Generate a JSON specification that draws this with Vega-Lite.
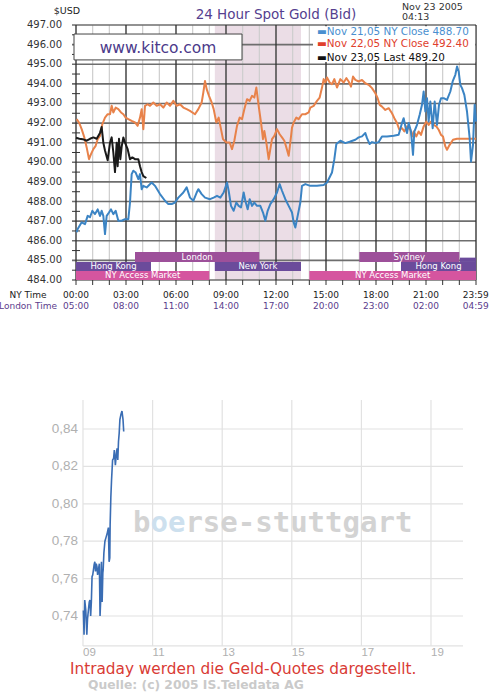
{
"$schema":"https://vega.github.io/schema/vega-lite/v6.json",
"width":502,"height":695,"autosize":"none","padding":0,"background":"white",
"config":{"view":{"stroke":null},"axis":{"disable":true},"legend":{"disable":true},"text":{"font":"DejaVu Sans"}},
"resolve":{"scale":{"x":"independent","y":"independent","color":"independent"}},
"data":{"values":[{}]},
"datasets":{
"hours":[{"h":0},{"h":1},{"h":2},{"h":3},{"h":4},{"h":5},{"h":6},{"h":7},{"h":8},{"h":9},{"h":10},{"h":11},{"h":12},{"h":13},{"h":14},{"h":15},{"h":16},{"h":17},{"h":18},{"h":19},{"h":20},{"h":21},{"h":22},{"h":23},{"h":24}],
"hours3":[{"h":0},{"h":3},{"h":6},{"h":9},{"h":12},{"h":15},{"h":18},{"h":21},{"h":24}],
"prices":[{"p":484},{"p":485},{"p":486},{"p":487},{"p":488},{"p":489},{"p":490},{"p":491},{"p":492},{"p":493},{"p":494},{"p":495},{"p":496},{"p":497}],
"halfs":[{"p":484.5},{"p":485.5},{"p":486.5},{"p":487.5},{"p":488.5},{"p":489.5},{"p":490.5},{"p":491.5},{"p":492.5},{"p":493.5},{"p":494.5},{"p":495.5},{"p":496.5}],
"timelabels":[{"h":-2.88,"ny":"NY Time","lon":"London Time"},{"h":0,"ny":"00:00","lon":"05:00"},{"h":3,"ny":"03:00","lon":"08:00"},{"h":6,"ny":"06:00","lon":"11:00"},{"h":9,"ny":"09:00","lon":"14:00"},{"h":12,"ny":"12:00","lon":"17:00"},{"h":15,"ny":"15:00","lon":"20:00"},{"h":18,"ny":"18:00","lon":"23:00"},{"h":21,"ny":"21:00","lon":"02:00"},{"h":23.98,"ny":"23:59","lon":"04:59"}],
"sessions":[
{"session":"London","start":3.54,"end":11.0,"lo":484.92,"hi":485.43,"kind":"a"},
{"session":"Sydney","start":17.0,"end":23.0,"lo":484.92,"hi":485.43,"kind":"a"},
{"session":"Hong Kong","start":0,"end":4.5,"lo":484.46,"hi":484.92,"kind":"b"},
{"session":"New York","start":8.33,"end":13.5,"lo":484.46,"hi":484.92,"kind":"b"},
{"session":"Hong Kong","start":19.5,"end":24,"lo":484.46,"hi":484.92,"kind":"b"},
{"session":"","start":23.04,"end":24,"lo":484.92,"hi":485.14,"kind":"b"},
{"session":"NY Access Market","start":0,"end":8.0,"lo":484.0,"hi":484.46,"kind":"c"},
{"session":"NY Access Market","start":14.0,"end":24,"lo":484.0,"hi":484.46,"kind":"c"}],
"nov21":[{"h":0.04,"p":486.43},{"h":0.1,"p":486.6},{"h":0.34,"p":486.94},{"h":0.54,"p":486.85},{"h":0.7,"p":487.27},{"h":0.84,"p":487.2},{"h":0.98,"p":487.53},{"h":1.14,"p":487.36},{"h":1.3,"p":487.6},{"h":1.44,"p":487.27},{"h":1.54,"p":487.53},{"h":1.64,"p":487.27},{"h":1.74,"p":486.34},{"h":1.84,"p":487.27},{"h":1.98,"p":487.44},{"h":2.1,"p":487.6},{"h":2.24,"p":487.36},{"h":2.38,"p":487.53},{"h":2.54,"p":487.02},{"h":2.74,"p":487.02},{"h":2.94,"p":487.1},{"h":3.14,"p":487.1},{"h":3.24,"p":487.95},{"h":3.34,"p":489.4},{"h":3.44,"p":489.57},{"h":3.58,"p":489.48},{"h":3.74,"p":489.14},{"h":3.84,"p":489.4},{"h":3.94,"p":488.63},{"h":4.04,"p":488.8},{"h":4.24,"p":488.72},{"h":4.54,"p":488.97},{"h":4.74,"p":488.8},{"h":5.04,"p":488.38},{"h":5.34,"p":488.04},{"h":5.54,"p":487.87},{"h":5.74,"p":487.87},{"h":5.94,"p":487.95},{"h":6.14,"p":488.2},{"h":6.44,"p":488.46},{"h":6.64,"p":488.72},{"h":6.84,"p":488.2},{"h":7.04,"p":488.04},{"h":7.24,"p":488.46},{"h":7.34,"p":488.63},{"h":7.54,"p":488.38},{"h":7.74,"p":488.2},{"h":8.04,"p":488.12},{"h":8.26,"p":488.2},{"h":8.46,"p":488.29},{"h":8.66,"p":488.2},{"h":8.86,"p":488.46},{"h":9.06,"p":488.97},{"h":9.16,"p":488.55},{"h":9.3,"p":487.78},{"h":9.46,"p":487.53},{"h":9.62,"p":487.95},{"h":9.76,"p":487.78},{"h":9.9,"p":487.7},{"h":10.06,"p":488.46},{"h":10.16,"p":488.04},{"h":10.3,"p":487.61},{"h":10.42,"p":488.12},{"h":10.56,"p":487.78},{"h":10.7,"p":487.95},{"h":10.86,"p":487.78},{"h":11.06,"p":487.78},{"h":11.22,"p":487.44},{"h":11.36,"p":487.02},{"h":11.5,"p":487.53},{"h":11.66,"p":487.87},{"h":11.86,"p":488.12},{"h":12.06,"p":488.46},{"h":12.22,"p":488.89},{"h":12.36,"p":488.55},{"h":12.56,"p":488.12},{"h":12.76,"p":487.78},{"h":12.96,"p":487.44},{"h":13.06,"p":486.94},{"h":13.16,"p":486.68},{"h":13.3,"p":487.27},{"h":13.46,"p":487.95},{"h":13.56,"p":488.8},{"h":13.76,"p":488.89},{"h":14.06,"p":488.8},{"h":14.46,"p":488.8},{"h":14.86,"p":488.84},{"h":15.06,"p":488.97},{"h":15.36,"p":489.48},{"h":15.5,"p":490.16},{"h":15.62,"p":490.93},{"h":15.86,"p":491.1},{"h":16.16,"p":490.98},{"h":16.46,"p":491.06},{"h":16.76,"p":491.15},{"h":16.96,"p":491.27},{"h":17.16,"p":491.32},{"h":17.36,"p":491.49},{"h":17.46,"p":491.23},{"h":17.62,"p":490.93},{"h":17.76,"p":491.03},{"h":17.96,"p":490.98},{"h":18.16,"p":491.03},{"h":18.36,"p":491.32},{"h":18.66,"p":491.32},{"h":19.06,"p":491.35},{"h":19.36,"p":491.4},{"h":19.56,"p":492.0},{"h":19.66,"p":492.25},{"h":19.76,"p":491.83},{"h":19.86,"p":491.49},{"h":19.96,"p":492.0},{"h":20.1,"p":491.57},{"h":20.22,"p":490.38},{"h":20.3,"p":491.57},{"h":20.46,"p":491.91},{"h":20.62,"p":492.42},{"h":20.76,"p":492.93},{"h":20.86,"p":493.61},{"h":20.96,"p":492.59},{"h":21.06,"p":493.27},{"h":21.16,"p":492.08},{"h":21.26,"p":493.1},{"h":21.4,"p":491.74},{"h":21.52,"p":493.1},{"h":21.66,"p":491.91},{"h":21.78,"p":492.93},{"h":21.9,"p":493.27},{"h":22.06,"p":493.27},{"h":22.26,"p":493.18},{"h":22.46,"p":493.61},{"h":22.6,"p":494.12},{"h":22.76,"p":494.46},{"h":22.86,"p":494.88},{"h":22.96,"p":494.63},{"h":23.06,"p":493.95},{"h":23.16,"p":493.78},{"h":23.3,"p":493.44},{"h":23.46,"p":492.59},{"h":23.62,"p":491.23},{"h":23.7,"p":490.04},{"h":23.82,"p":490.89},{"h":23.92,"p":492.93},{"h":24.0,"p":492.08}],
"nov22":[{"h":0.04,"p":492.2},{"h":0.18,"p":492.03},{"h":0.34,"p":491.69},{"h":0.5,"p":491.27},{"h":0.64,"p":490.76},{"h":0.78,"p":490.16},{"h":0.9,"p":490.42},{"h":1.04,"p":490.67},{"h":1.18,"p":490.84},{"h":1.3,"p":491.18},{"h":1.44,"p":491.35},{"h":1.58,"p":491.94},{"h":1.74,"p":492.28},{"h":1.9,"p":492.45},{"h":2.04,"p":492.45},{"h":2.14,"p":492.88},{"h":2.24,"p":492.54},{"h":2.38,"p":492.79},{"h":2.54,"p":492.71},{"h":2.7,"p":492.54},{"h":2.84,"p":492.45},{"h":2.98,"p":492.28},{"h":3.14,"p":492.2},{"h":3.34,"p":492.11},{"h":3.54,"p":492.03},{"h":3.7,"p":491.86},{"h":3.84,"p":492.28},{"h":3.94,"p":492.71},{"h":4.04,"p":491.69},{"h":4.14,"p":492.88},{"h":4.3,"p":492.96},{"h":4.44,"p":492.88},{"h":4.64,"p":493.05},{"h":4.84,"p":492.88},{"h":5.04,"p":492.96},{"h":5.24,"p":492.79},{"h":5.44,"p":493.05},{"h":5.64,"p":492.88},{"h":5.84,"p":493.13},{"h":6.04,"p":492.88},{"h":6.24,"p":492.96},{"h":6.44,"p":492.79},{"h":6.64,"p":492.71},{"h":6.84,"p":492.62},{"h":7.14,"p":492.45},{"h":7.34,"p":492.71},{"h":7.54,"p":493.05},{"h":7.64,"p":493.56},{"h":7.74,"p":494.15},{"h":7.84,"p":493.73},{"h":7.98,"p":493.39},{"h":8.14,"p":493.05},{"h":8.26,"p":492.71},{"h":8.42,"p":492.03},{"h":8.56,"p":492.28},{"h":8.7,"p":491.69},{"h":8.82,"p":491.18},{"h":9.02,"p":491.01},{"h":9.22,"p":491.01},{"h":9.36,"p":490.67},{"h":9.5,"p":491.1},{"h":9.66,"p":491.86},{"h":9.82,"p":492.28},{"h":9.96,"p":492.2},{"h":10.1,"p":492.71},{"h":10.26,"p":493.22},{"h":10.42,"p":493.13},{"h":10.56,"p":493.39},{"h":10.7,"p":493.3},{"h":10.82,"p":493.81},{"h":10.96,"p":492.88},{"h":11.1,"p":492.03},{"h":11.22,"p":491.18},{"h":11.3,"p":491.6},{"h":11.42,"p":491.01},{"h":11.56,"p":490.16},{"h":11.66,"p":490.67},{"h":11.76,"p":491.18},{"h":11.9,"p":491.35},{"h":12.06,"p":491.69},{"h":12.22,"p":491.43},{"h":12.36,"p":491.27},{"h":12.5,"p":491.1},{"h":12.62,"p":490.76},{"h":12.76,"p":490.33},{"h":12.86,"p":491.01},{"h":12.96,"p":491.77},{"h":13.06,"p":492.03},{"h":13.22,"p":492.28},{"h":13.36,"p":492.2},{"h":13.56,"p":492.45},{"h":13.76,"p":492.45},{"h":13.96,"p":492.54},{"h":14.06,"p":492.79},{"h":14.26,"p":492.88},{"h":14.46,"p":493.13},{"h":14.62,"p":493.3},{"h":14.76,"p":493.81},{"h":14.86,"p":494.24},{"h":14.96,"p":494.07},{"h":15.06,"p":494.32},{"h":15.22,"p":494.07},{"h":15.36,"p":493.98},{"h":15.5,"p":494.24},{"h":15.66,"p":493.81},{"h":15.86,"p":494.24},{"h":16.06,"p":494.07},{"h":16.22,"p":494.29},{"h":16.36,"p":494.12},{"h":16.5,"p":493.86},{"h":16.62,"p":494.37},{"h":16.76,"p":494.2},{"h":16.96,"p":494.12},{"h":17.16,"p":494.2},{"h":17.36,"p":494.03},{"h":17.56,"p":493.95},{"h":17.76,"p":493.78},{"h":17.96,"p":493.52},{"h":18.1,"p":493.27},{"h":18.22,"p":492.93},{"h":18.36,"p":492.84},{"h":18.56,"p":492.67},{"h":18.76,"p":492.76},{"h":18.96,"p":492.5},{"h":19.1,"p":492.25},{"h":19.26,"p":492.0},{"h":19.4,"p":491.66},{"h":19.56,"p":491.74},{"h":19.7,"p":491.57},{"h":19.86,"p":491.83},{"h":20.06,"p":491.66},{"h":20.16,"p":491.32},{"h":20.26,"p":491.57},{"h":20.42,"p":491.32},{"h":20.56,"p":491.57},{"h":20.7,"p":491.4},{"h":20.86,"p":491.83},{"h":21.02,"p":492.08},{"h":21.16,"p":491.91},{"h":21.3,"p":492.08},{"h":21.46,"p":491.91},{"h":21.62,"p":491.83},{"h":21.76,"p":491.66},{"h":21.9,"p":491.4},{"h":22.02,"p":491.32},{"h":22.16,"p":490.81},{"h":22.26,"p":490.64},{"h":22.42,"p":490.89},{"h":22.62,"p":491.15},{"h":22.86,"p":491.2},{"h":23.26,"p":491.2},{"h":23.66,"p":491.2},{"h":24.0,"p":491.2}],
"nov23":[{"h":0.0,"p":491.25},{"h":0.2,"p":491.2},{"h":0.4,"p":491.18},{"h":0.64,"p":491.1},{"h":0.84,"p":491.2},{"h":1.04,"p":491.27},{"h":1.24,"p":491.2},{"h":1.44,"p":491.5},{"h":1.54,"p":491.8},{"h":1.64,"p":491.0},{"h":1.74,"p":490.6},{"h":1.9,"p":490.1},{"h":2.04,"p":491.0},{"h":2.14,"p":491.27},{"h":2.24,"p":490.5},{"h":2.34,"p":489.5},{"h":2.44,"p":491.0},{"h":2.5,"p":489.8},{"h":2.58,"p":491.2},{"h":2.66,"p":490.16},{"h":2.74,"p":490.8},{"h":2.84,"p":491.27},{"h":2.94,"p":491.0},{"h":3.1,"p":490.67},{"h":3.24,"p":490.16},{"h":3.38,"p":490.25},{"h":3.54,"p":490.16},{"h":3.74,"p":490.16},{"h":3.84,"p":489.8},{"h":3.94,"p":489.5},{"h":4.04,"p":489.3},{"h":4.22,"p":489.2}],
"bgrid_v":[{"h":9},{"h":11},{"h":13},{"h":15},{"h":17},{"h":19}],
"bgrid_h":[{"v":0.724},{"v":0.74},{"v":0.76},{"v":0.78},{"v":0.8},{"v":0.82},{"v":0.84}],
"bylabels":[{"v":0.74,"t":"0,74"},{"v":0.76,"t":"0,76"},{"v":0.78,"t":"0,78"},{"v":0.8,"t":"0,80"},{"v":0.82,"t":"0,82"},{"v":0.84,"t":"0,84"}],
"bxlabels":[{"h":9,"t":"09"},{"h":11,"t":"11"},{"h":13,"t":"13"},{"h":15,"t":"15"},{"h":17,"t":"17"},{"h":19,"t":"19"}],
"intraday":[{"h":9.01,"v":0.743},{"h":9.03,"v":0.730},{"h":9.05,"v":0.7485},{"h":9.08,"v":0.743},{"h":9.11,"v":0.730},{"h":9.13,"v":0.7385},{"h":9.16,"v":0.744},{"h":9.18,"v":0.7475},{"h":9.2,"v":0.7485},{"h":9.22,"v":0.740},{"h":9.24,"v":0.7475},{"h":9.26,"v":0.761},{"h":9.28,"v":0.762},{"h":9.3,"v":0.7647},{"h":9.32,"v":0.7675},{"h":9.34,"v":0.769},{"h":9.36,"v":0.7638},{"h":9.38,"v":0.768},{"h":9.4,"v":0.7665},{"h":9.42,"v":0.762},{"h":9.45,"v":0.7656},{"h":9.47,"v":0.768},{"h":9.49,"v":0.740},{"h":9.51,"v":0.7494},{"h":9.53,"v":0.769},{"h":9.55,"v":0.7475},{"h":9.57,"v":0.763},{"h":9.58,"v":0.7647},{"h":9.6,"v":0.7737},{"h":9.63,"v":0.780},{"h":9.66,"v":0.7819},{"h":9.7,"v":0.7846},{"h":9.73,"v":0.7873},{"h":9.75,"v":0.769},{"h":9.77,"v":0.771},{"h":9.78,"v":0.789},{"h":9.8,"v":0.8035},{"h":9.82,"v":0.8126},{"h":9.85,"v":0.8234},{"h":9.88,"v":0.8243},{"h":9.9,"v":0.8288},{"h":9.93,"v":0.8207},{"h":9.96,"v":0.827},{"h":9.98,"v":0.8297},{"h":10.0,"v":0.8234},{"h":10.02,"v":0.8333},{"h":10.04,"v":0.8378},{"h":10.06,"v":0.845},{"h":10.09,"v":0.8478},{"h":10.12,"v":0.8496},{"h":10.15,"v":0.845},{"h":10.17,"v":0.8387}]
},
"layer":[
{"data":{"values":[{"start":8.33,"end":13.5,"lo":484,"hi":497}]},"mark":{"type":"rect","fill":"#ebdde6"},
 "encoding":{"x":{"field":"start","type":"quantitative","scale":{"domain":[-4.56,25.56],"nice":false,"zero":false}},"x2":{"field":"end"},"y":{"field":"lo","type":"quantitative","scale":{"domain":[462.843,498.2745],"nice":false,"zero":false}},"y2":{"field":"hi"}}},
{"data":{"name":"hours"},"mark":{"type":"rule","stroke":"#cdcdcd","strokeWidth":1.2},
 "encoding":{"x":{"field":"h","type":"quantitative","scale":{"domain":[-4.56,25.56],"nice":false,"zero":false}},"y":{"datum":484,"type":"quantitative","scale":{"domain":[462.843,498.2745],"nice":false,"zero":false}},"y2":{"datum":497}}},
{"data":{"name":"prices"},"mark":{"type":"rule","stroke":"#6e6e6e","strokeWidth":1.6},
 "encoding":{"y":{"field":"p","type":"quantitative","scale":{"domain":[462.843,498.2745],"nice":false,"zero":false}},"x":{"datum":-0.24,"type":"quantitative","scale":{"domain":[-4.56,25.56],"nice":false,"zero":false}},"x2":{"datum":24}}},
{"data":{"name":"hours3"},"mark":{"type":"rule","stroke":"#2a2a2a","strokeWidth":1.2},
 "encoding":{"x":{"field":"h","type":"quantitative","scale":{"domain":[-4.56,25.56],"nice":false,"zero":false}},"y":{"datum":484,"type":"quantitative","scale":{"domain":[462.843,498.2745],"nice":false,"zero":false}},"y2":{"datum":497}}},
{"data":{"name":"halfs"},"mark":{"type":"rule","stroke":"#333","strokeWidth":1},
 "encoding":{"y":{"field":"p","type":"quantitative","scale":{"domain":[462.843,498.2745],"nice":false,"zero":false}},"x":{"datum":-0.24,"type":"quantitative","scale":{"domain":[-4.56,25.56],"nice":false,"zero":false}},"x2":{"datum":0.24}}},
{"data":{"name":"hours"},"mark":{"type":"rule","stroke":"#333","strokeWidth":1},
 "encoding":{"x":{"field":"h","type":"quantitative","scale":{"domain":[-4.56,25.56],"nice":false,"zero":false}},"y":{"datum":484,"type":"quantitative","scale":{"domain":[462.843,498.2745],"nice":false,"zero":false}},"y2":{"datum":483.745}}},
{"data":{"name":"sessions"},"mark":{"type":"rect"},
 "encoding":{"x":{"field":"start","type":"quantitative","scale":{"domain":[-4.56,25.56],"nice":false,"zero":false}},"x2":{"field":"end"},"y":{"field":"lo","type":"quantitative","scale":{"domain":[462.843,498.2745],"nice":false,"zero":false}},"y2":{"field":"hi"},
  "color":{"field":"kind","type":"nominal","scale":{"domain":["a","b","c"],"range":["#9d509a","#6b4b9b","#d5559f"]},"legend":null}}},
{"data":{"name":"sessions"},"transform":[{"filter":"datum.session != ''"},{"calculate":"(datum.start+datum.end)/2","as":"mh"},{"calculate":"(datum.lo+datum.hi)/2","as":"mp"}],
 "mark":{"type":"text","fill":"white","fontSize":8.5,"align":"center","baseline":"middle"},
 "encoding":{"x":{"field":"mh","type":"quantitative","scale":{"domain":[-4.56,25.56],"nice":false,"zero":false}},"y":{"field":"mp","type":"quantitative","scale":{"domain":[462.843,498.2745],"nice":false,"zero":false}},"text":{"field":"session"}}},
{"mark":{"type":"rect","fill":"white"},
 "encoding":{"x":{"datum":14.22,"type":"quantitative","scale":{"domain":[-4.56,25.56],"nice":false,"zero":false}},"x2":{"datum":23.95},"y":{"datum":496.93,"type":"quantitative","scale":{"domain":[462.843,498.2745],"nice":false,"zero":false}},"y2":{"datum":495.11}}},
{"mark":{"type":"text","fill":"#4a8fd0","fontSize":10.4,"align":"left","baseline":"middle","text":"▬Nov 21,05 NY Close 488.70"},
 "encoding":{"x":{"datum":14.46,"type":"quantitative","scale":{"domain":[-4.56,25.56],"nice":false,"zero":false}},"y":{"datum":496.63,"type":"quantitative","scale":{"domain":[462.843,498.2745],"nice":false,"zero":false}}}},
{"mark":{"type":"text","fill":"#e0402c","fontSize":10.4,"align":"left","baseline":"middle","text":"▬Nov 22,05 NY Close 492.40"},
 "encoding":{"x":{"datum":14.46,"type":"quantitative","scale":{"domain":[-4.56,25.56],"nice":false,"zero":false}},"y":{"datum":496.02,"type":"quantitative","scale":{"domain":[462.843,498.2745],"nice":false,"zero":false}}}},
{"mark":{"type":"text","fill":"#111","fontSize":10.4,"align":"left","baseline":"middle","text":"▬Nov 23,05 Last 489.20"},
 "encoding":{"x":{"datum":14.46,"type":"quantitative","scale":{"domain":[-4.56,25.56],"nice":false,"zero":false}},"y":{"datum":495.33,"type":"quantitative","scale":{"domain":[462.843,498.2745],"nice":false,"zero":false}}}},
{"mark":{"type":"rect","fill":"white","stroke":"#444","strokeWidth":1},
 "encoding":{"x":{"datum":-0.12,"type":"quantitative","scale":{"domain":[-4.56,25.56],"nice":false,"zero":false}},"x2":{"datum":9.96},"y":{"datum":496.54,"type":"quantitative","scale":{"domain":[462.843,498.2745],"nice":false,"zero":false}},"y2":{"datum":495.22}}},
{"mark":{"type":"text","fill":"#4b3a8a","fontSize":15.5,"align":"center","baseline":"middle","text":"www.kitco.com"},
 "encoding":{"x":{"datum":4.92,"type":"quantitative","scale":{"domain":[-4.56,25.56],"nice":false,"zero":false}},"y":{"datum":495.85,"type":"quantitative","scale":{"domain":[462.843,498.2745],"nice":false,"zero":false}}}},
{"data":{"name":"nov22"},"mark":{"type":"line","stroke":"#e8824a","strokeWidth":2,"strokeJoin":"round"},
 "encoding":{"x":{"field":"h","type":"quantitative","scale":{"domain":[-4.56,25.56],"nice":false,"zero":false}},"y":{"field":"p","type":"quantitative","scale":{"domain":[462.843,498.2745],"nice":false,"zero":false}}}},
{"data":{"name":"nov21"},"mark":{"type":"line","stroke":"#3b84c4","strokeWidth":2,"strokeJoin":"round"},
 "encoding":{"x":{"field":"h","type":"quantitative","scale":{"domain":[-4.56,25.56],"nice":false,"zero":false}},"y":{"field":"p","type":"quantitative","scale":{"domain":[462.843,498.2745],"nice":false,"zero":false}}}},
{"data":{"name":"nov23"},"mark":{"type":"line","stroke":"#1a1a1a","strokeWidth":2,"strokeJoin":"round"},
 "encoding":{"x":{"field":"h","type":"quantitative","scale":{"domain":[-4.56,25.56],"nice":false,"zero":false}},"y":{"field":"p","type":"quantitative","scale":{"domain":[462.843,498.2745],"nice":false,"zero":false}}}},
{"data":{"name":"prices"},"mark":{"type":"text","fill":"#333","fontSize":10,"align":"right","baseline":"middle","dx":-14},
 "encoding":{"x":{"datum":0,"type":"quantitative","scale":{"domain":[-4.56,25.56],"nice":false,"zero":false}},"y":{"field":"p","type":"quantitative","scale":{"domain":[462.843,498.2745],"nice":false,"zero":false}},"text":{"field":"p","type":"quantitative","format":".2f"}}},
{"data":{"name":"timelabels"},"mark":{"type":"text","fill":"#222","fontSize":9,"align":"center","baseline":"middle","dy":15},
 "encoding":{"x":{"field":"h","type":"quantitative","scale":{"domain":[-4.56,25.56],"nice":false,"zero":false}},"y":{"datum":484,"type":"quantitative","scale":{"domain":[462.843,498.2745],"nice":false,"zero":false}},"text":{"field":"ny"}}},
{"data":{"name":"timelabels"},"mark":{"type":"text","fill":"#5b3c8c","fontSize":9,"align":"center","baseline":"middle","dy":26},
 "encoding":{"x":{"field":"h","type":"quantitative","scale":{"domain":[-4.56,25.56],"nice":false,"zero":false}},"y":{"datum":484,"type":"quantitative","scale":{"domain":[462.843,498.2745],"nice":false,"zero":false}},"text":{"field":"lon"}}},
{"mark":{"type":"text","fill":"#222","fontSize":9.5,"align":"center","baseline":"middle","text":"$USD"},
 "encoding":{"x":{"datum":-0.54,"type":"quantitative","scale":{"domain":[-4.56,25.56],"nice":false,"zero":false}},"y":{"datum":497.714,"type":"quantitative","scale":{"domain":[462.843,498.2745],"nice":false,"zero":false}}}},
{"mark":{"type":"text","fill":"#553f8f","fontSize":13.5,"fontWeight":500,"align":"center","baseline":"middle","text":"24 Hour Spot Gold (Bid)"},
 "encoding":{"x":{"datum":12,"type":"quantitative","scale":{"domain":[-4.56,25.56],"nice":false,"zero":false}},"y":{"datum":497.51,"type":"quantitative","scale":{"domain":[462.843,498.2745],"nice":false,"zero":false}}}},
{"mark":{"type":"text","fill":"#333","fontSize":9.5,"align":"left","baseline":"middle","text":"Nov 23 2005"},
 "encoding":{"x":{"datum":19.56,"type":"quantitative","scale":{"domain":[-4.56,25.56],"nice":false,"zero":false}},"y":{"datum":497.943,"type":"quantitative","scale":{"domain":[462.843,498.2745],"nice":false,"zero":false}}}},
{"mark":{"type":"text","fill":"#333","fontSize":9.5,"align":"left","baseline":"middle","text":"04:13"},
 "encoding":{"x":{"datum":19.56,"type":"quantitative","scale":{"domain":[-4.56,25.56],"nice":false,"zero":false}},"y":{"datum":497.433,"type":"quantitative","scale":{"domain":[462.843,498.2745],"nice":false,"zero":false}}}},
{"data":{"name":"bgrid_v"},"mark":{"type":"rule","stroke":"#e2e2e2","strokeWidth":1.2},
 "encoding":{"x":{"field":"h","type":"quantitative","scale":{"domain":[6.6149,21.0402],"nice":false,"zero":false}},"y":{"datum":0.72396,"type":"quantitative","scale":{"domain":[0.697754,1.069412],"nice":false,"zero":false}},"y2":{"datum":0.8555}}},
{"data":{"name":"bgrid_h"},"mark":{"type":"rule","stroke":"#e2e2e2","strokeWidth":1.2},
 "encoding":{"y":{"field":"v","type":"quantitative","scale":{"domain":[0.697754,1.069412],"nice":false,"zero":false}},"x":{"datum":9,"type":"quantitative","scale":{"domain":[6.6149,21.0402],"nice":false,"zero":false}},"x2":{"datum":19.92}}},
{"mark":{"type":"text","font":"DejaVu Sans Mono","fontWeight":"bold","fontSize":29,"fill":"#d3d3d3","align":"left","baseline":"alphabetic","text":"b"},
 "encoding":{"x":{"datum":10.437,"type":"quantitative","scale":{"domain":[6.6149,21.0402],"nice":false,"zero":false}},"y":{"datum":0.7849,"type":"quantitative","scale":{"domain":[0.697754,1.069412],"nice":false,"zero":false}}}},
{"mark":{"type":"text","font":"DejaVu Sans Mono","fontWeight":"bold","fontSize":29,"fill":"#cde0ee","align":"left","baseline":"alphabetic","text":"oe"},
 "encoding":{"x":{"datum":10.9385,"type":"quantitative","scale":{"domain":[6.6149,21.0402],"nice":false,"zero":false}},"y":{"datum":0.7849,"type":"quantitative","scale":{"domain":[0.697754,1.069412],"nice":false,"zero":false}}}},
{"mark":{"type":"text","font":"DejaVu Sans Mono","fontWeight":"bold","fontSize":29,"fill":"#d3d3d3","align":"left","baseline":"alphabetic","text":"rse-stuttgart"},
 "encoding":{"x":{"datum":11.9425,"type":"quantitative","scale":{"domain":[6.6149,21.0402],"nice":false,"zero":false}},"y":{"datum":0.7849,"type":"quantitative","scale":{"domain":[0.697754,1.069412],"nice":false,"zero":false}}}},
{"data":{"name":"intraday"},"mark":{"type":"line","stroke":"#3a6db4","strokeWidth":1.6},
 "encoding":{"x":{"field":"h","type":"quantitative","scale":{"domain":[6.6149,21.0402],"nice":false,"zero":false}},"y":{"field":"v","type":"quantitative","scale":{"domain":[0.697754,1.069412],"nice":false,"zero":false}}}},
{"data":{"name":"bylabels"},"mark":{"type":"text","font":"Liberation Sans","fontSize":13.5,"fill":"#b0b0b0","align":"right","baseline":"middle","dx":-5},
 "encoding":{"x":{"datum":9,"type":"quantitative","scale":{"domain":[6.6149,21.0402],"nice":false,"zero":false}},"y":{"field":"v","type":"quantitative","scale":{"domain":[0.697754,1.069412],"nice":false,"zero":false}},"text":{"field":"t"}}},
{"data":{"name":"bxlabels"},"mark":{"type":"text","font":"Liberation Sans","fontSize":11.5,"fill":"#b0b0b0","align":"left","baseline":"middle","dy":7},
 "encoding":{"x":{"field":"h","type":"quantitative","scale":{"domain":[6.6149,21.0402],"nice":false,"zero":false}},"y":{"datum":0.72396,"type":"quantitative","scale":{"domain":[0.697754,1.069412],"nice":false,"zero":false}},"text":{"field":"t"}}},
{"mark":{"type":"text","font":"DejaVu Sans","fontSize":15.3,"fill":"#d93b35","align":"left","baseline":"middle","text":"Intraday werden die Geld-Quotes dargestellt."},
 "encoding":{"x":{"datum":8.626,"type":"quantitative","scale":{"domain":[6.6149,21.0402],"nice":false,"zero":false}},"y":{"datum":0.71165,"type":"quantitative","scale":{"domain":[0.697754,1.069412],"nice":false,"zero":false}}}},
{"mark":{"type":"text","font":"DejaVu Sans","fontSize":12.3,"fontWeight":"bold","fill":"#cacaca","align":"left","baseline":"middle","text":"Quelle: (c) 2005 IS.Teledata AG"},
 "encoding":{"x":{"datum":9.144,"type":"quantitative","scale":{"domain":[6.6149,21.0402],"nice":false,"zero":false}},"y":{"datum":0.7031,"type":"quantitative","scale":{"domain":[0.697754,1.069412],"nice":false,"zero":false}}}}
]
}
